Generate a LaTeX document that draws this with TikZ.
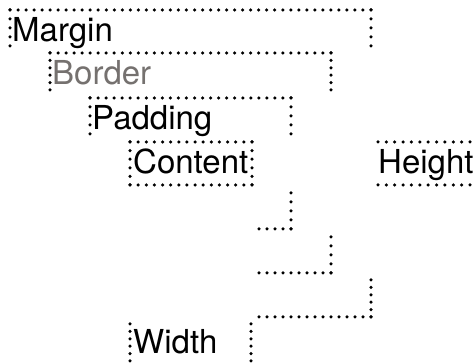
\documentclass[tikz,border=0pt]{standalone}
\usepackage{fontspec}
\setmainfont{TeX Gyre Heros}
\definecolor{bordergray}{RGB}{117,113,111}
\newcommand\dotln[4]{%
  \pgfmathtruncatemacro\dotn{max(1,round(veclen(#3-#1,#4-#2)/8.1))}%
  \foreach \dotk in {0,...,\dotn}{%
    \fill ({#1+(#3-#1)*\dotk/\dotn},{#2+(#4-#2)*\dotk/\dotn}) circle (1.75pt);}%
}
\begin{document}
\begin{tikzpicture}[x=1pt,y=-1pt,
  lbl/.style={anchor=base west, inner sep=0pt, font=\fontsize{33}{33}\selectfont}]
\useasboundingbox (0,0) rectangle (475,363);
% Margin
\dotln{10}{10}{371}{10}
\dotln{10}{10}{10}{46}
\dotln{371}{10}{371}{46}
% Border
\dotln{50}{53}{331}{53}
\dotln{50}{53}{50}{90}
\dotln{331}{53}{331}{90}
% Padding
\dotln{90}{98}{291}{98}
\dotln{90}{98}{90}{134}
\dotln{291}{98}{291}{134}
% Content
\dotln{130}{142}{252}{142}
\dotln{130}{185}{252}{185}
\dotln{130}{142}{130}{185}
\dotln{252}{142}{252}{185}
% Height
\dotln{378}{142}{470}{142}
\dotln{378}{185}{470}{185}
% lower brackets
\dotln{291}{193}{291}{229}
\dotln{259}{229}{291}{229}
\dotln{331}{237}{331}{273}
\dotln{259}{273}{331}{273}
\dotln{371}{280}{371}{317}
\dotln{259}{317}{371}{317}
% Width
\dotln{130}{324}{130}{361}
\dotln{251}{324}{251}{361}
% labels
\node[lbl] (margin) at (12,42) {Margin};
\node[lbl, text=bordergray] (border) at (52,85) {Border};
\node[lbl] (padding) at (92,130) {Padding};
\node[lbl] (content) at (133,174) {Content};
\node[lbl] (height) at (378,174) {Height};
\node[lbl] (width) at (133,354) {Width};
\end{tikzpicture}
\end{document}
